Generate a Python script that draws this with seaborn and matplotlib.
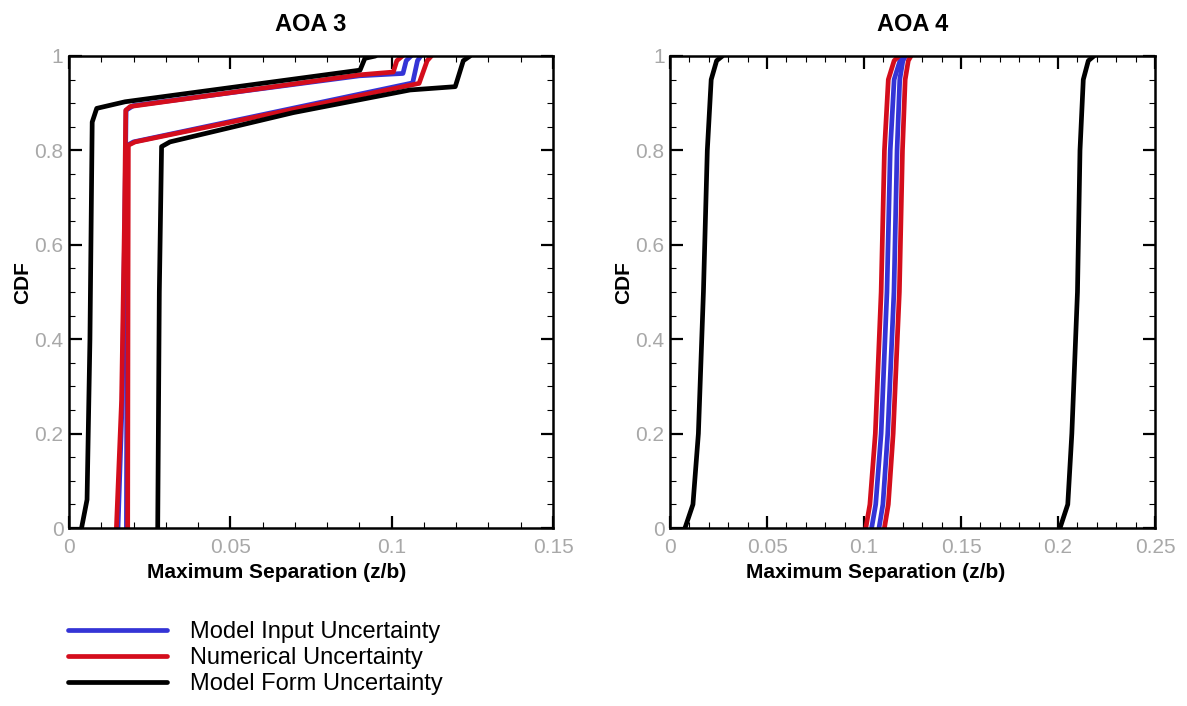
import pandas as pd
import seaborn as sns
import matplotlib.pyplot as plt
from matplotlib.ticker import MultipleLocator, FuncFormatter

sources = ["Model Input Uncertainty", "Numerical Uncertainty", "Model Form Uncertainty"]
colors = ["#3434d6", "#d40d1c", "#000000"]

# AOA 3: lower / upper CDF bounds for each uncertainty source
aoa3_input_lo_x = [0.0152, 0.0165, 0.0173, 0.0177, 0.0200, 0.0900, 0.1035, 0.1045, 0.1060]
aoa3_input_lo_cdf = [0.0, 0.27, 0.65, 0.885, 0.895, 0.958, 0.963, 0.99, 1.0]
aoa3_input_hi_x = [0.0178, 0.0180, 0.0181, 0.0200, 0.1065, 0.1080, 0.1090]
aoa3_input_hi_cdf = [0.0, 0.5, 0.811, 0.818, 0.943, 0.99, 1.0]

aoa3_num_lo_x = [0.0147, 0.0163, 0.0172, 0.0176, 0.0190, 0.0900, 0.1005, 0.1016, 0.1033]
aoa3_num_lo_cdf = [0.0, 0.27, 0.65, 0.885, 0.893, 0.960, 0.966, 0.99, 1.0]
aoa3_num_hi_x = [0.0182, 0.0183, 0.0184, 0.0205, 0.1085, 0.1110, 0.1123]
aoa3_num_hi_cdf = [0.0, 0.5, 0.811, 0.818, 0.942, 0.99, 1.0]

aoa3_form_lo_x = [0.0039, 0.0056, 0.0065, 0.0072, 0.0086, 0.0174, 0.0902, 0.0917, 0.0950]
aoa3_form_lo_cdf = [0.0, 0.06, 0.40, 0.86, 0.889, 0.903, 0.970, 0.995, 1.0]
aoa3_form_hi_x = [0.0275, 0.0280, 0.0287, 0.0313, 0.0695, 0.1057, 0.1197, 0.1222, 0.1243]
aoa3_form_hi_cdf = [0.0, 0.5, 0.808, 0.818, 0.880, 0.928, 0.935, 0.99, 1.0]

# AOA 4: all curves read at the same CDF levels
aoa4_cdf = [0.0, 0.05, 0.2, 0.5, 0.8, 0.95, 0.99, 1.0]
aoa4_input_lo_x = [0.1039, 0.1060, 0.1088, 0.1118, 0.1135, 0.1155, 0.1185, 0.1210]
aoa4_input_hi_x = [0.1077, 0.1097, 0.1122, 0.1154, 0.1170, 0.1184, 0.1200, 0.1214]
aoa4_num_lo_x = [0.1009, 0.1030, 0.1058, 0.1088, 0.1105, 0.1125, 0.1155, 0.1180]
aoa4_num_hi_x = [0.1105, 0.1125, 0.1150, 0.1182, 0.1198, 0.1212, 0.1228, 0.1242]
aoa4_form_lo_x = [0.0077, 0.0118, 0.0146, 0.0172, 0.0192, 0.0212, 0.0240, 0.0270]
aoa4_form_hi_x = [0.2010, 0.2050, 0.2071, 0.2100, 0.2113, 0.2130, 0.2156, 0.2185]


def curve(panel, source, name, xs, cdf):
    return pd.DataFrame({"panel": panel, "source": source, "curve": name,
                         "x": xs, "cdf": cdf})


df = pd.concat([
    curve("AOA 3", sources[0], "lo", aoa3_input_lo_x, aoa3_input_lo_cdf),
    curve("AOA 3", sources[0], "hi", aoa3_input_hi_x, aoa3_input_hi_cdf),
    curve("AOA 3", sources[1], "lo", aoa3_num_lo_x, aoa3_num_lo_cdf),
    curve("AOA 3", sources[1], "hi", aoa3_num_hi_x, aoa3_num_hi_cdf),
    curve("AOA 3", sources[2], "lo", aoa3_form_lo_x, aoa3_form_lo_cdf),
    curve("AOA 3", sources[2], "hi", aoa3_form_hi_x, aoa3_form_hi_cdf),
    curve("AOA 4", sources[0], "lo", aoa4_input_lo_x, aoa4_cdf),
    curve("AOA 4", sources[0], "hi", aoa4_input_hi_x, aoa4_cdf),
    curve("AOA 4", sources[1], "lo", aoa4_num_lo_x, aoa4_cdf),
    curve("AOA 4", sources[1], "hi", aoa4_num_hi_x, aoa4_cdf),
    curve("AOA 4", sources[2], "lo", aoa4_form_lo_x, aoa4_cdf),
    curve("AOA 4", sources[2], "hi", aoa4_form_hi_x, aoa4_cdf),
], ignore_index=True)

sns.set_style("ticks")
plt.rcParams["font.family"] = ["Liberation Sans", "DejaVu Sans"]
plt.rcParams["text.color"] = "black"
plt.rcParams["axes.labelcolor"] = "black"

fig = plt.figure(figsize=(11.87, 7.06), dpi=100)
ax1 = fig.add_axes([0.0581, 0.2521, 0.4078, 0.6686])
ax2 = fig.add_axes([0.5645, 0.2521, 0.4086, 0.6686])
palette = dict(zip(sources, colors))
fmt = FuncFormatter(lambda v, p: f"{v:g}")

for ax, panel, xmax, lab_x in [(ax1, "AOA 3", 0.15, 0.43), (ax2, "AOA 4", 0.25, 0.423)]:
    sns.lineplot(data=df[df.panel == panel], x="x", y="cdf", hue="source",
                 hue_order=sources, palette=palette, units="curve",
                 estimator=None, sort=False, linewidth=3.4, legend=False, ax=ax)
    ax.set_xlim(0, xmax)
    ax.set_ylim(0, 1)
    ax.xaxis.set_major_locator(MultipleLocator(0.05))
    ax.xaxis.set_minor_locator(MultipleLocator(0.01))
    ax.yaxis.set_major_locator(MultipleLocator(0.2))
    ax.yaxis.set_minor_locator(MultipleLocator(0.05))
    ax.xaxis.set_major_formatter(fmt)
    ax.yaxis.set_major_formatter(fmt)
    ax.tick_params(which="both", direction="in", top=True, right=True,
                   labelsize=15, labelcolor="#a8a8a8", color="black")
    ax.tick_params(which="major", length=9, width=1.6)
    ax.tick_params(which="minor", length=4.5, width=0.8)
    ax.tick_params(axis="x", which="major", pad=7)
    ax.tick_params(axis="y", which="major", pad=4)
    for s in ax.spines.values():
        s.set_linewidth(1.8)
        s.set_color("black")
    ax.set_title(panel, fontsize=17, fontweight="bold", pad=18)
    ax.set_xlabel("Maximum Separation (z/b)", fontsize=15, fontweight="bold")
    ax.xaxis.set_label_coords(lab_x, -0.075)
    ax.set_ylabel("CDF", fontsize=15, fontweight="bold")
    ax.yaxis.set_label_coords(-0.076, 0.52)

handles = [plt.Line2D([], [], color=c, linewidth=3.4) for c in colors]
fig.legend(handles, sources, loc="upper left", bbox_to_anchor=(68 / 1187, 1 - 621 / 706),
           frameon=False, fontsize=17, handlelength=4.2, handletextpad=0.95,
           labelspacing=0.17, borderpad=0, borderaxespad=0)

fig.savefig("out.png", dpi=100)
